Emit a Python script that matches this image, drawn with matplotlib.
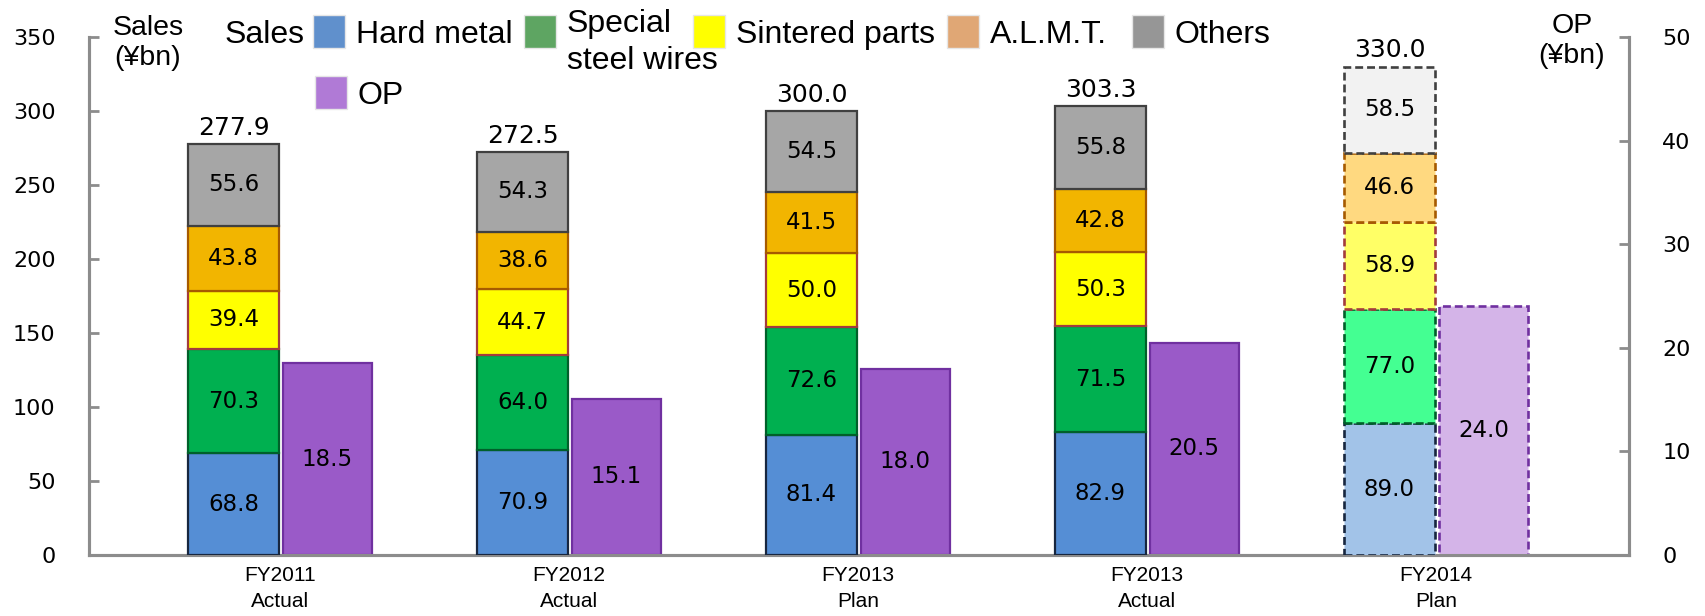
import numpy as np
import matplotlib
matplotlib.use('Agg')
import matplotlib.pyplot as plt
from matplotlib.patches import Rectangle

# ---- data (¥bn) ----
categories = ['FY2011\nActual', 'FY2012\nActual', 'FY2013\nPlan', 'FY2013\nActual', 'FY2014\nPlan']
hard_metal = [68.8, 70.9, 81.4, 82.9, 89.0]
steel_wires = [70.3, 64.0, 72.6, 71.5, 77.0]
sintered = [39.4, 44.7, 50.0, 50.3, 58.9]
almt = [43.8, 38.6, 41.5, 42.8, 46.6]
others = [55.6, 54.3, 54.5, 55.8, 58.5]
totals = [277.9, 272.5, 300.0, 303.3, 330.0]
op = [18.5, 15.1, 18.0, 20.5, 24.0]
plan_idx = 4  # FY2014 plan drawn light + dashed

W, H = 1706, 616
fig = plt.figure(figsize=(W / 100, H / 100), dpi=100)
ax = fig.add_axes([89 / W, 1 - 555 / H, (1629 - 89) / W, (555 - 37) / H])
ax2 = ax.twinx()

NUM_FONT = 'DejaVu Sans'
TXT_FONT = ['Liberation Sans', 'Arial', 'DejaVu Sans']

# segment: values, fill, edge, plan fill, plan edge
segments = [
    (hard_metal, '#558ed5', '#17263f', '#a2c3e8', '#17263f'),
    (steel_wires, '#00b050', '#00602a', '#44ff92', '#00602a'),
    (sintered, '#ffff00', '#a33c3c', '#ffff66', '#a33c3c'),
    (almt, '#f2b500', '#a65a00', '#ffd980', '#a65a00'),
    (others, '#a6a6a6', '#404040', '#f2f2f2', '#404040'),
]

x = np.arange(len(categories))
off_s, off_op = -0.161, 0.164
w_s, w_op = 0.315, 0.308
dash = (0, (3, 1.5))

bottom = np.zeros(len(categories))
for vals, fc, ec, pfc, pec in segments:
    fcs = [pfc if i == plan_idx else fc for i in range(len(x))]
    ecs = [pec if i == plan_idx else ec for i in range(len(x))]
    bars = ax.bar(x + off_s, vals, w_s, bottom=bottom, color=fcs,
                  edgecolor=ecs, linewidth=1.6, zorder=3)
    bars[plan_idx].set_linestyle(dash)
    bars[plan_idx].set_linewidth(1.9)
    for xi, b, v in zip(x, bottom, vals):
        ax.text(xi + off_s, b + v / 2, f'{v:.1f}', ha='center', va='center',
                fontsize=16.5, family=NUM_FONT, zorder=5)
    bottom += np.array(vals)

for xi, t in zip(x, totals):
    ax.annotate(f'{t:.1f}', (xi + off_s, t), xytext=(0, 3), textcoords='offset points',
                ha='center', va='bottom', fontsize=18, family=NUM_FONT)

op_fc = ['#d4b4e8' if i == plan_idx else '#9a5ac8' for i in range(len(x))]
op_bars = ax2.bar(x + off_op, op, w_op, color=op_fc, edgecolor='#7030a0',
                  linewidth=1.6, zorder=3)
op_bars[plan_idx].set_linestyle(dash)
op_bars[plan_idx].set_linewidth(1.9)
for xi, v in zip(x, op):
    ax2.text(xi + off_op, v / 2, f'{v:.1f}', ha='center', va='center',
             fontsize=16.5, family=NUM_FONT, zorder=5)

# ---- axes ----
ax.set_xlim(-0.661, 4.668)
ax.set_ylim(0, 350)
ax2.set_ylim(0, 50)
ax.set_yticks(range(0, 351, 50))
ax2.set_yticks(range(0, 51, 10))
ax.set_xticks(x)
ax.set_xticklabels(categories, fontsize=15, family=TXT_FONT, linespacing=1.45)

spine_c = '#8c8c8c'
for a in (ax, ax2):
    a.spines['top'].set_visible(False)
    for s in ('left', 'right', 'bottom'):
        a.spines[s].set_color(spine_c)
        a.spines[s].set_linewidth(2.2)
    a.tick_params(axis='y', direction='in', length=7, width=2, color=spine_c,
                  labelsize=16, pad=24)
    for lbl in a.get_yticklabels():
        lbl.set_family(NUM_FONT)
ax.tick_params(axis='x', length=0, pad=8)
ax.set_zorder(ax2.get_zorder() + 1)
ax.patch.set_visible(False)

# axis titles
fig.text(148 / W, 1 - 15 / H, 'Sales\n(¥bn)', ha='center', va='top',
         fontsize=20.5, family=TXT_FONT)
fig.text(1572 / W, 1 - 13 / H, 'OP\n(¥bn)', ha='center', va='top',
         fontsize=20.5, family=TXT_FONT)

# ---- legend ----
fig.text(225 / W, 1 - 43 / H, 'Sales', ha='left', va='baseline',
         fontsize=23, family=TXT_FONT)
leg_labels = ['Hard metal', 'Special\nsteel wires', 'Sintered parts', 'A.L.M.T.', 'Others', 'OP']
leg_colors = ['#6090cc', '#5ea562', '#ffff00', '#e0a775', '#969696', '#b07ad6']
leg_x = [313, 524, 693, 947, 1132, 315]
leg_y = [15, 15, 15, 15, 15, 76]
for lab, c, lx, ly in zip(leg_labels, leg_colors, leg_x, leg_y):
    fig.add_artist(Rectangle((lx / W, 1 - (ly + 33) / H), 32 / W, 33 / H,
                             transform=fig.transFigure, facecolor=c,
                             edgecolor='#e6e6e6', linewidth=1))
    if '\n' in lab:
        fig.text((lx + 43) / W, 1 - 9 / H, lab, ha='left', va='top',
                 fontsize=23, family=TXT_FONT, linespacing=1.3)
    else:
        fig.text((lx + 43) / W, 1 - (ly + 28) / H, lab, ha='left', va='baseline',
                 fontsize=23, family=TXT_FONT)

fig.savefig('out.png', dpi=100)
